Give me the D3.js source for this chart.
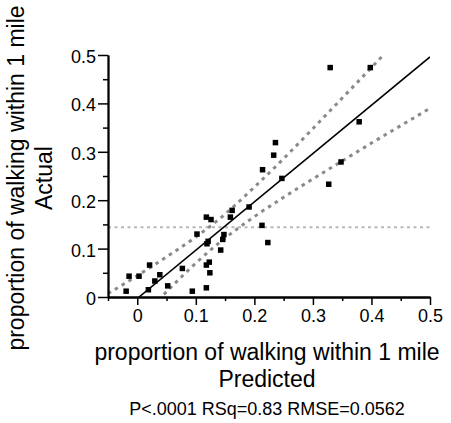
<!DOCTYPE html>
<html>
<head>
<meta charset="utf-8">
<script src="https://cdn.jsdelivr.net/npm/d3@7"></script>
<style>
  html, body { margin: 0; padding: 0; background: #fff; }
  svg { display: block; }
  text { font-family: "Liberation Sans", Arial, sans-serif; fill: #000; }
</style>
</head>
<body>
<svg id="chart" width="451" height="423"></svg>
<script>
// ---- data ----
const predicted = [-0.019, -0.014, 0.003, 0.021, 0.019, 0.030, 0.0385, 0.052, 0.077, 0.094,
  0.102, 0.118, 0.119, 0.118, 0.123, 0.124, 0.118, 0.126, 0.162, 0.159,
  0.191, 0.121, 0.148, 0.146, 0.1425, 0.213, 0.223, 0.236, 0.233, 0.214,
  0.247, 0.327, 0.348, 0.3295, 0.398, 0.379];
const actual = [0.012, 0.043, 0.043, 0.066, 0.015, 0.033, 0.046, 0.023, 0.059, 0.012,
  0.130, 0.019, 0.110, 0.066, 0.072, 0.050, 0.165, 0.160, 0.179, 0.165,
  0.186, 0.115, 0.129, 0.119, 0.097, 0.148, 0.1125, 0.319, 0.293, 0.263,
  0.245, 0.233, 0.279, 0.474, 0.474, 0.362];
const fitX = [0.003, 0.5];
const fitY = [0.0, 0.496];
const bandX = [-0.05, 0.0, 0.05, 0.1, 0.14, 0.2, 0.25, 0.3, 0.35, 0.4, 0.45, 0.5];
const bandUpper = [0.007, 0.044, 0.083, 0.124, 0.161, 0.227, 0.286, 0.348, 0.411, 0.474, 0.538, 0.602];
const bandLower = [-0.113, -0.050, 0.011, 0.070, 0.112, 0.166, 0.206, 0.244, 0.281, 0.318, 0.354, 0.390];
const meanActual = 0.144;
const xMajorTicks = [0, 0.1, 0.2, 0.3, 0.4, 0.5];
const xMinorTicks = [-0.05, 0.05, 0.15, 0.25, 0.35, 0.45];
const yMajorTicks = [0, 0.1, 0.2, 0.3, 0.4, 0.5];
const yMinorTicks = [0.05, 0.15, 0.25, 0.35, 0.45];
const xTitle = ["proportion of walking within 1 mile", "Predicted"];
const yTitle = ["proportion of walking within 1 mile", "Actual"];
const statsText = "P<.0001 RSq=0.83 RMSE=0.0562";

// ---- layout ----
const svg = d3.select("#chart");
const mLeft = 108, mRight = 430, mTop = 55, mBottom = 297;
const x = d3.scaleLinear().domain([-0.05, 0.5]).range([mLeft, mRight]);
const y = d3.scaleLinear().domain([0, 0.5]).range([mBottom, mTop]);
const fmt = d => (d === 0 ? "0" : d3.format(".1f")(d));

svg.append("defs").append("clipPath").attr("id", "plotclip")
  .append("rect").attr("x", mLeft).attr("y", mTop)
  .attr("width", mRight - mLeft).attr("height", mBottom - mTop);

const plot = svg.append("g").attr("clip-path", "url(#plotclip)");

// mean line
plot.append("line")
  .attr("x1", x(-0.05)).attr("x2", x(0.5))
  .attr("y1", y(meanActual)).attr("y2", y(meanActual))
  .attr("stroke", "#b8b8b8").attr("stroke-width", 2)
  .attr("stroke-dasharray", "3,3.5");

// confidence curves
const bandLine = (ys) => d3.line()
  .x((d, i) => x(bandX[i])).y((d, i) => y(ys[i]))
  .curve(d3.curveMonotoneX)(bandX);
[bandUpper, bandLower].forEach(ys => {
  plot.append("path").attr("d", bandLine(ys))
    .attr("fill", "none").attr("stroke", "#8a8a8a")
    .attr("stroke-width", 3).attr("stroke-dasharray", "3.5,4.5");
});

// fit line
plot.append("line")
  .attr("x1", x(fitX[0])).attr("y1", y(fitY[0]))
  .attr("x2", x(fitX[1])).attr("y2", y(fitY[1]))
  .attr("stroke", "#000").attr("stroke-width", 1.6);

// points
const s = 5.5;
svg.append("g").selectAll("rect").data(predicted).join("rect")
  .attr("x", (d) => x(d) - s / 2)
  .attr("y", (d, i) => y(actual[i]) - s / 2)
  .attr("width", s).attr("height", s)
  .attr("fill", "#000");

// axes
const xAxisMajor = d3.axisBottom(x).tickValues(xMajorTicks).tickFormat(fmt).tickSize(8).tickSizeOuter(0);
const xAxisMinor = d3.axisBottom(x).tickValues(xMinorTicks).tickFormat("").tickSize(4).tickSizeOuter(0);
const yAxisMajor = d3.axisLeft(y).tickValues(yMajorTicks).tickFormat(fmt).tickSize(10).tickSizeOuter(0);
const yAxisMinor = d3.axisLeft(y).tickValues(yMinorTicks).tickFormat("").tickSize(5).tickSizeOuter(0);

const gx = svg.append("g").attr("transform", `translate(0,${mBottom})`);
gx.append("g").call(xAxisMinor);
gx.append("g").call(xAxisMajor);
const gy = svg.append("g").attr("transform", `translate(${mLeft},0)`);
gy.append("g").call(yAxisMinor);
gy.append("g").call(yAxisMajor);

svg.selectAll(".domain").attr("stroke", "#000").attr("stroke-width", 1.8);
svg.selectAll(".tick line").attr("stroke", "#000").attr("stroke-width", 1.5);
gx.selectAll(".tick text").attr("font-size", 18).attr("font-family", "Liberation Sans, Arial, sans-serif")
  .attr("y", 12).attr("dy", "0.71em");
gy.selectAll(".tick text").attr("font-size", 18).attr("font-family", "Liberation Sans, Arial, sans-serif")
  .attr("x", -12).attr("dy", "0.42em");

// titles
const cx = 267;
svg.append("text").attr("x", cx).attr("y", 360).attr("text-anchor", "middle")
  .attr("font-size", 23).text(xTitle[0]);
svg.append("text").attr("x", cx).attr("y", 387).attr("text-anchor", "middle")
  .attr("font-size", 23).text(xTitle[1]);
svg.append("text").attr("x", cx).attr("y", 415).attr("text-anchor", "middle")
  .attr("font-size", 18).text(statsText);

const cy = 178;
svg.append("text").attr("transform", `translate(24,${cy}) rotate(-90)`)
  .attr("text-anchor", "middle").attr("font-size", 23).text(yTitle[0]);
svg.append("text").attr("transform", `translate(52,${cy}) rotate(-90)`)
  .attr("text-anchor", "middle").attr("font-size", 23).text(yTitle[1]);
</script>
</body>
</html>
